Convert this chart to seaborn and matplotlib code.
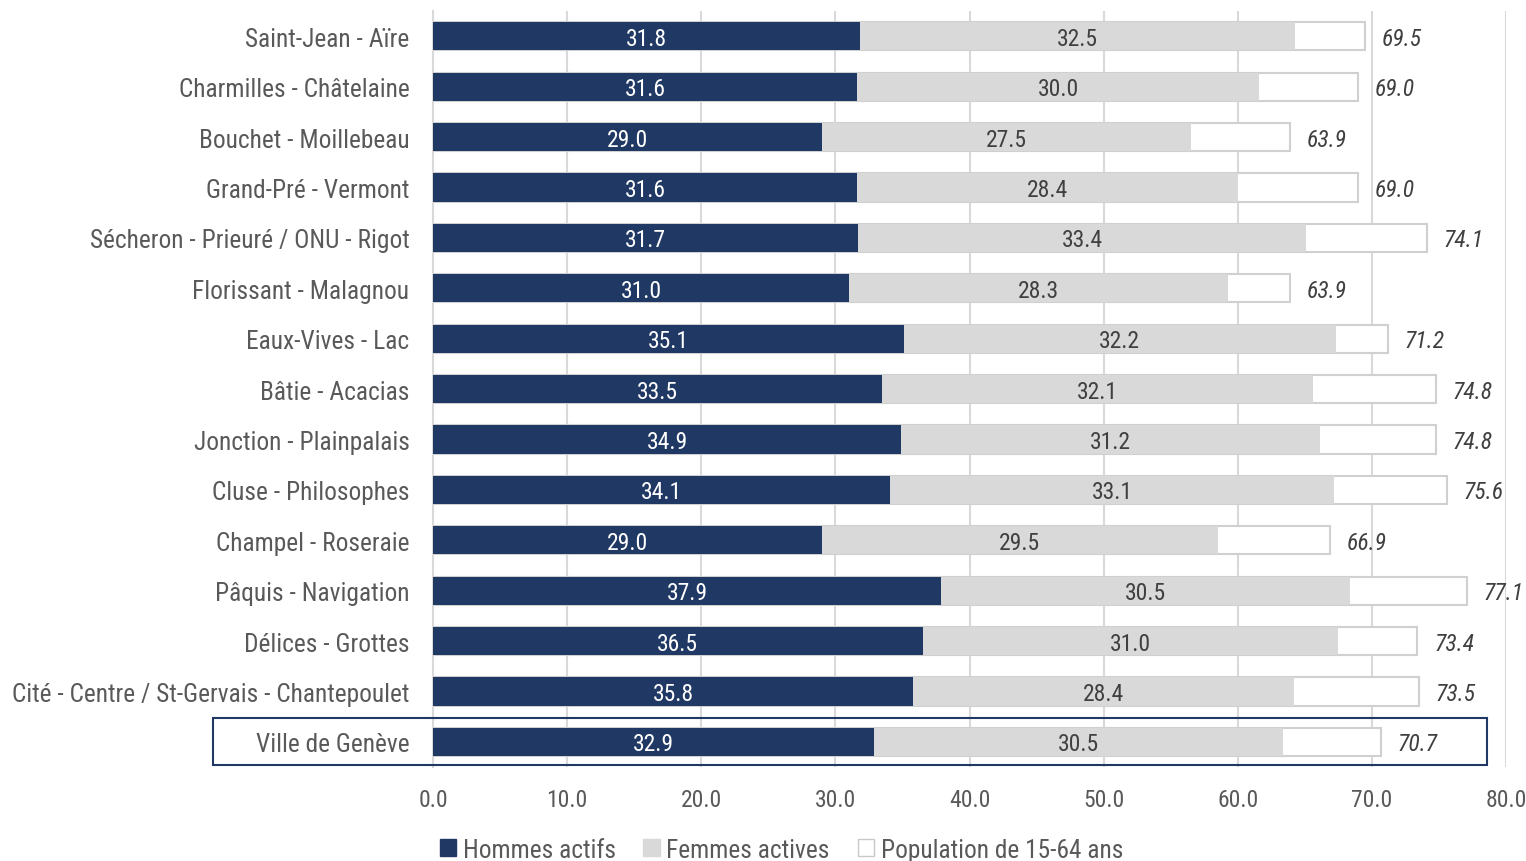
import matplotlib
matplotlib.use("Agg")
import matplotlib.pyplot as plt
from matplotlib.patches import Rectangle, Patch
from matplotlib import font_manager
import seaborn as sns
import pandas as pd

quartiers = [
    "Saint-Jean - Aïre",
    "Charmilles - Châtelaine",
    "Bouchet - Moillebeau",
    "Grand-Pré - Vermont",
    "Sécheron - Prieuré / ONU - Rigot",
    "Florissant - Malagnou",
    "Eaux-Vives - Lac",
    "Bâtie - Acacias",
    "Jonction - Plainpalais",
    "Cluse - Philosophes",
    "Champel - Roseraie",
    "Pâquis - Navigation",
    "Délices - Grottes",
    "Cité - Centre / St-Gervais - Chantepoulet",
    "Ville de Genève",
]
hommes = [31.8, 31.6, 29.0, 31.6, 31.7, 31.0, 35.1, 33.5, 34.9, 34.1, 29.0, 37.9, 36.5, 35.8, 32.9]
femmes = [32.5, 30.0, 27.5, 28.4, 33.4, 28.3, 32.2, 32.1, 31.2, 33.1, 29.5, 30.5, 31.0, 28.4, 30.5]
population = [69.5, 69.0, 63.9, 69.0, 74.1, 63.9, 71.2, 74.8, 74.8, 75.6, 66.9, 77.1, 73.4, 73.5, 70.7]
x_ticks = [0, 10, 20, 30, 40, 50, 60, 70, 80]

NAVY = "#203864"
GREY = "#d9d9d9"
TXT = "#595959"

df = pd.DataFrame({"quartier": quartiers, "hommes": hommes,
                   "femmes": femmes, "population": population})
df["cumul"] = df["hommes"] + df["femmes"]

sns.set_style("white")

# police étroite (type Arial Narrow) si disponible
names = {f.name for f in font_manager.fontManager.ttflist}
fam, fs = "Liberation Sans", 15.0
for cand in ["Liberation Sans Narrow", "Arial Narrow", "Roboto Condensed", "Archivo Narrow"]:
    if cand in names:
        fam, fs = cand, 18.3
        break
plt.rcParams["font.family"] = [fam, "DejaVu Sans"]
fs_small = fs - 1.3

fig = plt.figure(figsize=(15.26, 8.62), dpi=100)
ax = fig.add_axes([0.2838, 0.109, 0.7031, 0.877])

bw = 0.56
sns.barplot(data=df, x="population", y="quartier", orient="h", color="white",
            edgecolor="#d0d0d0", linewidth=1.5, width=bw, saturation=1, ax=ax, zorder=2)
sns.barplot(data=df, x="cumul", y="quartier", orient="h", color=GREY,
            linewidth=0, width=bw, saturation=1, ax=ax, zorder=3)
sns.barplot(data=df, x="hommes", y="quartier", orient="h", color=NAVY,
            linewidth=0, width=bw, saturation=1, ax=ax, zorder=4)

for i, row in df.iterrows():
    ax.text(row["hommes"] / 2, i + 0.04, f"{row['hommes']:.1f}", color="white",
            ha="center", va="center", fontsize=fs_small, zorder=5)
    ax.text(row["hommes"] + row["femmes"] / 2, i + 0.04, f"{row['femmes']:.1f}", color="#404040",
            ha="center", va="center", fontsize=fs_small, zorder=5)
    ax.annotate(f"{row['population']:.1f}", (row["population"], i + 0.04), xytext=(12, 0),
                textcoords="offset points", color="#404040", ha="left", va="center",
                fontsize=fs_small, style="italic", zorder=5)

ax.set_xlim(0, 80)
ax.set_ylim(14.5, -0.5)
ax.set_xticks(x_ticks)
ax.set_xticklabels([f"{v:.1f}" for v in x_ticks])
ax.xaxis.grid(True, color="#d9d9d9", linewidth=1.5, zorder=0)
ax.set_axisbelow(True)
ax.set_xlabel("")
ax.set_ylabel("")
for s in ["top", "right", "bottom"]:
    ax.spines[s].set_visible(False)
ax.spines["left"].set_color("#d9d9d9")
ax.spines["left"].set_linewidth(1.5)
ax.tick_params(axis="x", length=0, labelsize=fs_small, labelcolor=TXT, pad=15)
ax.tick_params(axis="y", length=0, labelsize=fs, labelcolor=TXT, pad=17)

# encadré Ville de Genève
ax.add_patch(Rectangle((-16.4, 13.53), 95.0, 0.93, fill=False, edgecolor=NAVY,
                       linewidth=1.5, clip_on=False, zorder=6))

handles = [
    Patch(facecolor=NAVY, edgecolor=NAVY, label="Hommes actifs"),
    Patch(facecolor=GREY, edgecolor=GREY, label="Femmes actives"),
    Patch(facecolor="white", edgecolor="#c8c8c8", label="Population de 15-64 ans"),
]
fig.legend(handles=handles, loc="center", bbox_to_anchor=(0.512, 0.013), ncol=3,
           frameon=False, fontsize=fs, handlelength=0.65, handleheight=0.65,
           handletextpad=0.25, columnspacing=1.1, labelcolor=TXT)

fig.savefig("out.png", dpi=100, facecolor="white")
